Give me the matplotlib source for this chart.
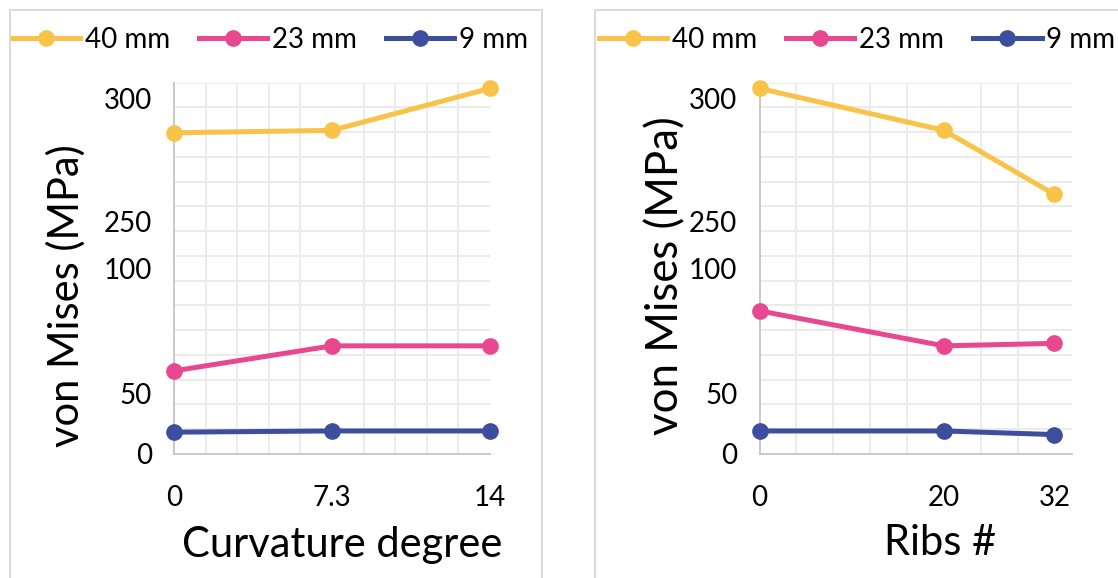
"""Two-panel von Mises stress chart with a broken y axis (0-100 / 250-300)."""

import matplotlib

matplotlib.use("Agg")
import matplotlib.pyplot as plt  # noqa: E402
import numpy as np  # noqa: E402
from matplotlib.patches import Rectangle  # noqa: E402
from matplotlib.ticker import FixedLocator, NullFormatter  # noqa: E402

# ---- data -------------------------------------------------------------
series_names = ["40 mm", "23 mm", "9 mm"]
series_colors = ["#F9C34A", "#E8488F", "#3E4E9E"]

curv_labels = ["0", "7.3", "14"]
curv_40 = [286, 287, 304]
curv_23 = [59, 69, 69]
curv_9 = [18, 19, 19]

ribs_x = [0, 20, 32]
ribs_40 = [304, 287, 261]
ribs_23 = [83, 69, 70]
ribs_9 = [19, 19, 16]

y_ticks = [0, 50, 100, 250, 300]

# ---- broken axis: value -> grid units (piecewise linear) --------------
KNOT_VAL = [-50, 0, 50, 100, 250, 300, 350]
KNOT_DISP = [-2.45, 0.0, 2.45, 7.50, 9.39, 14.37, 19.36]
N_GRID = 15


def forward(v):
    return np.interp(v, KNOT_VAL, KNOT_DISP)


def inverse(d):
    return np.interp(d, KNOT_DISP, KNOT_VAL)


W, H = 1118, 578
plt.rcParams["font.family"] = ["Lato", "DejaVu Sans"]

fig = plt.figure(figsize=(W / 100, H / 100), dpi=100)


def fx(px):
    return px / W


def fy(py):
    return 1 - py / H


# light panel frames
for left, right in [(9.5, 541.5), (594.5, 1130)]:
    fig.add_artist(Rectangle((fx(left), fy(H + 20)), fx(right - left), (H + 20 - 9.5) / H,
                             transform=fig.transFigure, fill=False,
                             edgecolor="#D9D9D9", linewidth=1.4))


def style_axes(ax):
    ax.set_yscale("function", functions=(forward, inverse))
    ax.set_ylim(0, float(inverse(N_GRID)))
    ax.yaxis.set_major_locator(FixedLocator(y_ticks))
    ax.yaxis.set_minor_locator(FixedLocator(inverse(np.arange(0, N_GRID + 1))))
    ax.yaxis.set_minor_formatter(NullFormatter())
    ax.set_yticklabels([str(t) for t in y_ticks])
    ax.grid(True, which="minor", color="#EBEBEB", linewidth=1.4)
    ax.grid(False, which="major")
    ax.set_axisbelow(True)
    for side in ["top", "right"]:
        ax.spines[side].set_visible(False)
    for side in ["left", "bottom"]:
        ax.spines[side].set_color("#C8C8C8")
        ax.spines[side].set_linewidth(1.4)
    ax.tick_params(which="both", length=0)
    ax.tick_params(axis="y", labelsize=20, pad=16)
    ax.tick_params(axis="x", labelsize=20, pad=22)


def draw_series(ax, x, ys):
    handles = []
    for vals, name, color in zip(ys, series_names, series_colors):
        (h,) = ax.plot(x, vals, color=color, linewidth=3.6, marker="o",
                       markersize=11, label=name, clip_on=False, zorder=3)
        handles.append(h)
    return handles


def add_legend(ax, handles, x_px):
    ax.legend(handles=handles, loc="center left", ncol=3, frameon=False,
              bbox_to_anchor=(fx(x_px), fy(40)), bbox_transform=fig.transFigure,
              fontsize=20, handlelength=2.45, handletextpad=0.18,
              columnspacing=1.05, borderpad=0, borderaxespad=0)


# ---- left panel: curvature --------------------------------------------
ax1 = fig.add_axes([fx(174), fy(454), fx(490 - 174), (454 - 82.7) / H])
curv_pos = np.arange(len(curv_labels))
h1 = draw_series(ax1, curv_pos, [curv_40, curv_23, curv_9])
style_axes(ax1)
ax1.set_xlim(curv_pos[0], curv_pos[-1])
ax1.xaxis.set_major_locator(FixedLocator(curv_pos))
ax1.set_xticklabels(curv_labels)
ax1.xaxis.set_minor_locator(FixedLocator(np.linspace(curv_pos[0], curv_pos[-1], 11)))
ax1.grid(True, which="minor", axis="x", color="#EBEBEB", linewidth=1.4)
add_legend(ax1, h1, 12)
fig.text(fx(342), fy(545), "Curvature degree", fontsize=30, ha="center", va="center")
fig.text(fx(66), fy(296), "von Mises (MPa)", fontsize=30, rotation=90,
         ha="center", va="center")

# ---- right panel: ribs ------------------------------------------------
ax2 = fig.add_axes([fx(759.5), fy(454), fx(1072 - 759.5), (454 - 82.7) / H])
h2 = draw_series(ax2, ribs_x, [ribs_40, ribs_23, ribs_9])
style_axes(ax2)
ax2.set_xlim(0, 33.9)
ax2.xaxis.set_major_locator(FixedLocator(ribs_x))
ax2.set_xticklabels([str(v) for v in ribs_x])
ax2.xaxis.set_minor_locator(FixedLocator(np.arange(0, 33, 4)))
ax2.grid(True, which="minor", axis="x", color="#EBEBEB", linewidth=1.4)
add_legend(ax2, h2, 599)
fig.text(fx(940), fy(543), "Ribs #", fontsize=30, ha="center", va="center")
fig.text(fx(666), fy(276), "von Mises (MPa)", fontsize=31.5, rotation=90,
         ha="center", va="center")

fig.savefig("out.png", dpi=100)
